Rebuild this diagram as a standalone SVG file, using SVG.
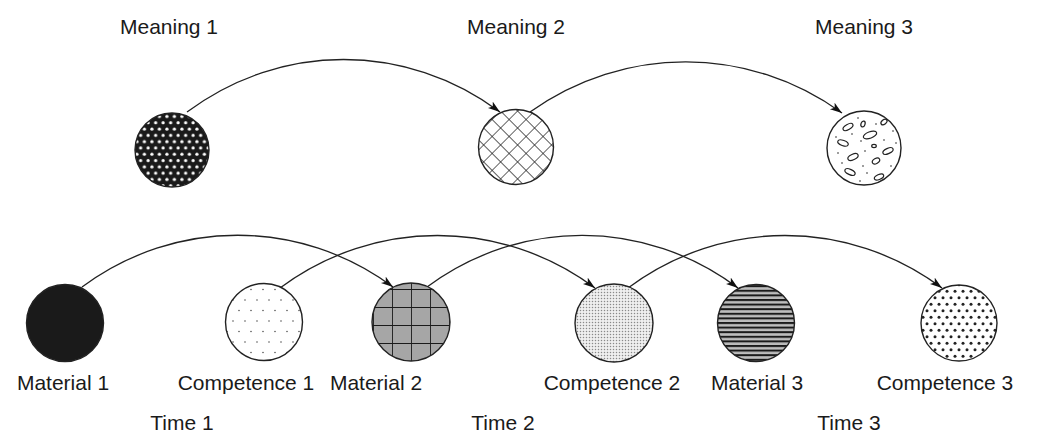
<svg xmlns="http://www.w3.org/2000/svg" width="1038" height="432" viewBox="0 0 1038 432">
  <style>
    .lbl { font-family: "Liberation Sans", Arial, sans-serif; font-size: 21px; fill: #1a1a1a; text-anchor: middle; }
    .ring { stroke: #222; stroke-width: 1.4; }
    .arc { fill: none; stroke: #222; stroke-width: 1.3; marker-end: url(#head); }
    .blob { fill: none; stroke: #222; stroke-width: 1.2; }
    .speck { fill: #222; }
  </style>
  <defs>
    <marker id="head" markerUnits="userSpaceOnUse" markerWidth="14" markerHeight="10" refX="12" refY="4" orient="auto">
      <path d="M0,0 L12,4 L0,8 L3,4 z" fill="#111"/>
    </marker>
    <!-- white dots on black, staggered -->
    <pattern id="p-dotsWhite" patternUnits="userSpaceOnUse" width="7.5" height="12.6">
      <rect width="7.5" height="12.6" fill="#1a1a1a"/>
      <circle cx="1.9" cy="3.1" r="1.6" fill="#fff"/>
      <circle cx="5.65" cy="9.4" r="1.6" fill="#fff"/>
    </pattern>
    <!-- diagonal cross-hatch -->
    <pattern id="p-cross" patternUnits="userSpaceOnUse" width="12" height="12" patternTransform="rotate(45)">
      <rect width="12" height="12" fill="#fff"/>
      <path d="M0,0 H12 M0,0 V12" stroke="#222" stroke-width="1.4"/>
    </pattern>
    <!-- sparse fine dots -->
    <pattern id="p-sparse" patternUnits="userSpaceOnUse" width="12" height="21" x="2" y="1">
      <rect width="12" height="21" fill="#fff"/>
      <circle cx="3" cy="5" r="0.8" fill="#555"/>
      <circle cx="9" cy="15.5" r="0.8" fill="#555"/>
    </pattern>
    <!-- grey with grid -->
    <pattern id="p-grid" patternUnits="userSpaceOnUse" width="19" height="18" x="392" y="307">
      <rect width="19" height="18" fill="#a6a6a6"/>
      <path d="M0,0 H19 M0,0 V18" stroke="#1a1a1a" stroke-width="1.8"/>
    </pattern>
    <!-- dense stipple -->
    <pattern id="p-stipple" patternUnits="userSpaceOnUse" width="3" height="3">
      <rect width="3" height="3" fill="#efefef"/>
      <circle cx="1.5" cy="1.5" r="0.75" fill="#8a8a8a"/>
    </pattern>
    <!-- horizontal rules -->
    <pattern id="p-rules" patternUnits="userSpaceOnUse" width="10" height="4.6">
      <rect width="10" height="4.6" fill="#bdbdbd"/>
      <rect y="0" width="10" height="2" fill="#1a1a1a"/>
    </pattern>
    <!-- black dots on white, staggered -->
    <pattern id="p-dotsBlack" patternUnits="userSpaceOnUse" width="8" height="13" x="1" y="2">
      <rect width="8" height="13" fill="#fff"/>
      <circle cx="2" cy="3.2" r="1.5" fill="#222"/>
      <circle cx="6" cy="9.7" r="1.5" fill="#222"/>
    </pattern>
  </defs>

  <!-- connectors -->
  <g id="connectors">
    <path class="arc" d="M187,112 C281,42 406,42 500,112"/>
    <path class="arc" d="M530,112 C624,45 748,45 842,113"/>
    <path class="arc" d="M82,287 C175,218 300,218 393,287"/>
    <path class="arc" d="M280,288 C374,218 501,218 595,288"/>
    <path class="arc" d="M427,287 C520,218 645,218 738,288"/>
    <path class="arc" d="M628,288 C722,218 848,218 942,288"/>
  </g>

  <!-- meaning row -->
  <g id="meaning1">
    <text class="lbl" x="169" y="34">Meaning 1</text>
    <circle class="ring" cx="172" cy="150" r="37" fill="url(#p-dotsWhite)"/>
  </g>
  <g id="meaning2">
    <text class="lbl" x="516" y="34">Meaning 2</text>
    <circle class="ring" cx="516" cy="147" r="37.5" fill="url(#p-cross)"/>
  </g>
  <g id="meaning3">
    <text class="lbl" x="864" y="34">Meaning 3</text>
    <circle class="ring" cx="864" cy="148" r="37" fill="#fff"/>
    <ellipse class="blob" cx="848" cy="127" rx="5.5" ry="2.6" transform="rotate(-30 848 127)"/>
    <ellipse class="blob" cx="863" cy="124" rx="3" ry="2" transform="rotate(-70 863 124)"/>
    <ellipse class="blob" cx="884" cy="122" rx="3.5" ry="2.2" transform="rotate(-40 884 122)"/>
    <ellipse class="blob" cx="870" cy="135" rx="7" ry="3.2" transform="rotate(-20 870 135)"/>
    <ellipse class="blob" cx="843" cy="143" rx="5.5" ry="2.6" transform="rotate(20 843 143)"/>
    <ellipse class="blob" cx="888" cy="151" rx="5.5" ry="2.6" transform="rotate(-25 888 151)"/>
    <ellipse class="blob" cx="853" cy="157" rx="5.5" ry="2.7" transform="rotate(-25 853 157)"/>
    <ellipse class="blob" cx="876" cy="161" rx="4" ry="2.5" transform="rotate(-30 876 161)"/>
    <ellipse class="blob" cx="850" cy="172" rx="5.5" ry="2.6" transform="rotate(25 850 172)"/>
    <ellipse class="blob" cx="879" cy="177" rx="5" ry="2.4" transform="rotate(-25 879 177)"/>
    <ellipse class="blob" cx="874" cy="146" rx="2.3" ry="1.6"/>
    <circle class="speck" cx="858" cy="118" r="0.8"/>
    <circle class="speck" cx="876" cy="124" r="0.8"/>
    <circle class="speck" cx="893" cy="131" r="0.8"/>
    <circle class="speck" cx="836" cy="137" r="0.8"/>
    <circle class="speck" cx="852" cy="134" r="0.8"/>
    <circle class="speck" cx="861" cy="141" r="0.8"/>
    <circle class="speck" cx="865" cy="151" r="0.8"/>
    <circle class="speck" cx="838" cy="153" r="0.8"/>
    <circle class="speck" cx="842" cy="163" r="0.8"/>
    <circle class="speck" cx="896" cy="143" r="0.8"/>
    <circle class="speck" cx="863" cy="166" r="0.8"/>
    <circle class="speck" cx="867" cy="173" r="0.8"/>
    <circle class="speck" cx="891" cy="166" r="0.8"/>
    <circle class="speck" cx="860" cy="181" r="0.8"/>
    <circle class="speck" cx="884" cy="140" r="0.8"/>
  </g>

  <!-- material / competence row -->
  <g id="material1">
    <circle class="ring" cx="65" cy="323" r="38.5" fill="#1a1a1a"/>
    <text class="lbl" x="63" y="390">Material 1</text>
  </g>
  <g id="competence1">
    <circle class="ring" cx="264" cy="322" r="38.5" fill="url(#p-sparse)"/>
    <text class="lbl" x="246" y="390">Competence 1</text>
  </g>
  <g id="material2">
    <circle class="ring" cx="411" cy="322" r="39" fill="url(#p-grid)"/>
    <text class="lbl" x="376" y="390">Material 2</text>
  </g>
  <g id="competence2">
    <circle class="ring" cx="614" cy="323" r="39" fill="url(#p-stipple)"/>
    <text class="lbl" x="612" y="390">Competence 2</text>
  </g>
  <g id="material3">
    <circle class="ring" cx="756" cy="323" r="38.5" fill="url(#p-rules)"/>
    <text class="lbl" x="757" y="390">Material 3</text>
  </g>
  <g id="competence3">
    <circle class="ring" cx="959" cy="323" r="38" fill="url(#p-dotsBlack)"/>
    <text class="lbl" x="945" y="390">Competence 3</text>
  </g>

  <!-- time axis labels -->
  <g id="times">
    <text class="lbl" x="182" y="430">Time 1</text>
    <text class="lbl" x="503" y="430">Time 2</text>
    <text class="lbl" x="849" y="430">Time 3</text>
  </g>
</svg>
